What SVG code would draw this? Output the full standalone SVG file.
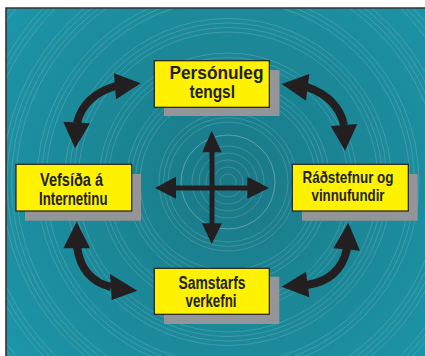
<svg xmlns="http://www.w3.org/2000/svg" width="425" height="356" viewBox="0 0 425 356">
<defs>
<radialGradient id="bg" cx="228" cy="182" r="300" gradientUnits="userSpaceOnUse">
<stop offset="0" stop-color="#1a7885"/>
<stop offset="0.45" stop-color="#1b8797"/>
<stop offset="1" stop-color="#1d97ab"/>
</radialGradient>
<clipPath id="clip"><rect x="6" y="8" width="419" height="348"/></clipPath>
</defs>
<style>
.ring{fill:none;stroke:#b4cfd3;stroke-width:0.6;opacity:0.42}
.box{fill:#fff200;stroke:#231f20;stroke-width:1.2}
.shadow{fill:#939598}
.lbl{font-family:"Liberation Sans",Arial,sans-serif;font-weight:bold;font-size:17.5px;fill:#231f20}
.tight{font-size:16.5px}
.shaft{fill:none;stroke:#231f20;stroke-width:8}
.cross{fill:none;stroke:#231f20;stroke-width:5}
.head{fill:#231f20}
</style>
<rect x="0" y="0" width="425" height="356" fill="#ffffff"/>
<rect x="6" y="8" width="419" height="348" fill="url(#bg)"/>
<g id="rings" clip-path="url(#clip)">
<circle class="ring" cx="228" cy="182" r="8"/>
<circle class="ring" cx="228" cy="182" r="15"/>
<circle class="ring" cx="228" cy="182" r="22"/>
<circle class="ring" cx="228" cy="182" r="29"/>
<circle class="ring" cx="228" cy="182" r="36"/>
<circle class="ring" cx="228" cy="182" r="47" style="opacity:0.75"/>
<circle class="ring" cx="228" cy="182" r="60"/>
<circle class="ring" cx="228" cy="182" r="64.5"/>
<circle class="ring" cx="228" cy="182" r="69"/>
<circle class="ring" cx="228" cy="182" r="88"/>
<circle class="ring" cx="228" cy="182" r="92.5"/>
<circle class="ring" cx="228" cy="182" r="97"/>
<circle class="ring" cx="228" cy="182" r="101.5"/>
<circle class="ring" cx="228" cy="182" r="120"/>
<circle class="ring" cx="228" cy="182" r="124.5"/>
<circle class="ring" cx="228" cy="182" r="129"/>
<circle class="ring" cx="228" cy="182" r="150"/>
<circle class="ring" cx="228" cy="182" r="154.5"/>
<circle class="ring" cx="228" cy="182" r="159"/>
<circle class="ring" cx="228" cy="182" r="163.5"/>
<circle class="ring" cx="228" cy="182" r="182"/>
<circle class="ring" cx="228" cy="182" r="186.5"/>
<circle class="ring" cx="228" cy="182" r="191"/>
<circle class="ring" cx="228" cy="182" r="212"/>
<circle class="ring" cx="228" cy="182" r="216.5"/>
<circle class="ring" cx="228" cy="182" r="221"/>
<circle class="ring" cx="228" cy="182" r="225.5"/>
<circle class="ring" cx="228" cy="182" r="245"/>
<circle class="ring" cx="228" cy="182" r="249.5"/>
<circle class="ring" cx="228" cy="182" r="254"/>
<circle class="ring" cx="228" cy="182" r="274"/>
<circle class="ring" cx="228" cy="182" r="278.5"/>
<circle class="ring" cx="228" cy="182" r="283"/>
<circle class="ring" cx="228" cy="182" r="287.5"/>
<circle class="ring" cx="228" cy="182" r="305"/>
<circle class="ring" cx="228" cy="182" r="309.5"/>
<circle class="ring" cx="228" cy="182" r="314"/>
</g>
<path d="M6 356 V8 H425" fill="none" stroke="#333333" stroke-width="1.6"/>
<g id="connectors">
<path class="shaft" d="M116 86 Q84 95 77 123"/>
<polygon class="head" points="140.7,83.3 114,73.3 116,99.3"/>
<polygon class="head" points="75,148.3 63.3,121.7 90,123.3"/>
<path class="shaft" d="M307 87 Q338 98 344 125"/>
<polygon class="head" points="281.7,84 309.3,74 306,100.7"/>
<polygon class="head" points="345,150.7 330.7,126 357.3,124"/>
<path class="shaft" d="M77 247 Q82 280 111 287"/>
<polygon class="head" points="76.7,221.7 63.3,248.3 90,248.3"/>
<polygon class="head" points="137.3,290.7 110,274 111.7,300"/>
<path class="shaft" d="M347 249 Q340 280 307 285"/>
<polygon class="head" points="348.3,222.7 333.3,248.3 360,250.7"/>
<polygon class="head" points="281.7,286.7 306,271.7 309.3,297.3"/>
<path class="cross" d="M212 150 V225 M174 188 H249"/>
<polygon class="head" points="211.7,130.7 202.3,152.3 221.7,152.3"/>
<polygon class="head" points="211.7,244 202,223.3 222,223.3"/>
<polygon class="head" points="155,188 176,176.7 176,198.7"/>
<polygon class="head" points="269,188 247.3,176.7 247.3,198.7"/>
</g>
<g id="node-top">
<rect class="shadow" x="164" y="70" width="115.5" height="46"/>
<rect class="box" x="154.3" y="60.7" width="115" height="46.6"/>
<text class="lbl" x="169.5" y="78.5" textLength="94" lengthAdjust="spacingAndGlyphs">Persónuleg</text>
<text class="lbl" x="189.5" y="97.5" textLength="45.5" lengthAdjust="spacingAndGlyphs">tengsl</text>
</g>
<g id="node-left">
<rect class="shadow" x="25" y="174" width="116" height="46.7"/>
<rect class="box" x="16" y="164.3" width="115.7" height="46.7"/>
<text class="lbl" x="40" y="186" textLength="63" lengthAdjust="spacingAndGlyphs">Vefsíða á</text>
<text class="lbl" x="39" y="204.5" textLength="68.5" lengthAdjust="spacingAndGlyphs">Internetinu</text>
</g>
<g id="node-right">
<rect class="shadow" x="302" y="174" width="115.7" height="46.7"/>
<rect class="box" x="292.3" y="164.3" width="116" height="46.7"/>
<text class="lbl tight" x="302.5" y="183" textLength="91" lengthAdjust="spacingAndGlyphs">Ráðstefnur og</text>
<text class="lbl tight" x="311.5" y="200.5" textLength="73" lengthAdjust="spacingAndGlyphs">vinnufundir</text>
</g>
<g id="node-bottom">
<rect class="shadow" x="164" y="276.7" width="115.3" height="47.3"/>
<rect class="box" x="154.3" y="268.3" width="115" height="46"/>
<text class="lbl" x="178.5" y="289" textLength="67" lengthAdjust="spacingAndGlyphs">Samstarfs</text>
<text class="lbl" x="185.5" y="307" textLength="51" lengthAdjust="spacingAndGlyphs">verkefni</text>
</g>
</svg>
